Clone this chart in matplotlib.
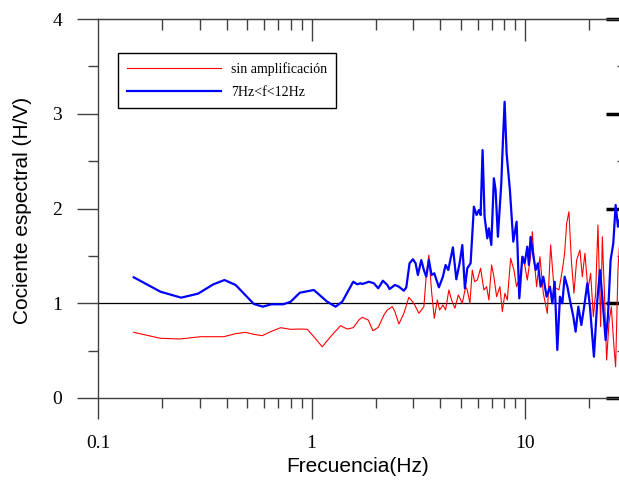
import numpy as np
import matplotlib.pyplot as plt
from matplotlib.ticker import LogLocator, MultipleLocator, FixedLocator, NullFormatter

# H/V spectral ratio - "sin amplificación" (red)
f_red = [0.147, 0.196, 0.243, 0.302, 0.388, 0.441, 0.491, 0.537, 0.588, 0.643,
         0.716, 0.797, 0.888, 0.955, 1.025, 1.122, 1.227, 1.367, 1.469, 1.567,
         1.665, 1.728, 1.843, 1.937, 2.053, 2.182, 2.263, 2.388, 2.456, 2.564,
         2.706, 2.855, 3.015, 3.182, 3.357, 3.445, 3.543, 3.648, 3.756, 3.880,
         3.977, 4.121, 4.243, 4.396, 4.526, 4.691, 4.866, 5.081, 5.264, 5.362,
         5.515, 5.657, 5.800, 5.971, 6.188, 6.412, 6.603, 6.767, 6.967, 7.142,
         7.355, 7.621, 7.821, 8.043, 8.255, 8.553, 8.862, 9.123, 9.454, 9.808,
         10.24, 10.61, 10.81, 11.00, 11.32, 11.73, 12.17, 12.71, 13.17, 13.64,
         14.40, 14.94, 15.31, 15.65, 16.04, 16.46, 16.93, 17.43, 18.06, 18.53,
         19.06, 19.69, 20.27, 20.87, 21.39, 21.93, 22.58, 22.99, 23.58, 24.08,
         24.69, 25.33, 26.06, 26.54, 27.21, 27.71]
hv_red = [0.693, 0.630, 0.623, 0.647, 0.647, 0.679, 0.693, 0.672, 0.658, 0.700,
          0.742, 0.725, 0.728, 0.725, 0.647, 0.541, 0.647, 0.763, 0.728, 0.742,
          0.823, 0.852, 0.823, 0.710, 0.746, 0.876, 0.929, 0.964, 0.911, 0.781,
          0.894, 1.063, 0.999, 0.894, 0.964, 1.298, 1.509, 1.122, 0.841, 1.034,
          0.929, 0.982, 0.929, 1.140, 1.034, 0.947, 1.087, 0.999, 1.175, 1.140,
          0.999, 1.351, 1.227, 1.245, 1.369, 1.140, 1.175, 1.034, 1.404, 1.280,
          1.069, 1.175, 0.911, 1.105, 1.034, 1.474, 1.351, 1.175, 1.280, 1.491,
          1.245, 1.500, 1.755, 1.491, 1.175, 1.491, 1.105, 0.894, 1.615, 1.175,
          1.140, 1.351, 1.527, 1.844, 1.966, 1.456, 1.105, 1.456, 1.562, 1.280,
          1.527, 1.140, 1.316, 0.858, 1.105, 1.826, 0.753, 1.702, 1.034, 0.401,
          0.788, 0.964, 0.541, 0.330, 1.351, 1.633]

# H/V spectral ratio - "7Hz<f<12Hz" (blue)
f_blue = [0.147, 0.196, 0.245, 0.294, 0.347, 0.391, 0.441, 0.537, 0.591, 0.648,
          0.737, 0.798, 0.881, 1.025, 1.184, 1.295, 1.392, 1.567, 1.637, 1.696,
          1.728, 1.855, 1.958, 2.053, 2.158, 2.263, 2.319, 2.456, 2.564, 2.706,
          2.777, 2.877, 2.982, 3.070, 3.147, 3.265, 3.357, 3.445, 3.543, 3.648,
          3.756, 3.948, 4.121, 4.243, 4.368, 4.591, 4.763, 4.935, 5.081, 5.224,
          5.362, 5.556, 5.757, 5.927, 6.076, 6.188, 6.322, 6.460, 6.652, 6.767,
          6.945, 7.142, 7.274, 7.457, 7.735, 7.870, 8.017, 8.191, 8.488, 8.804,
          9.123, 9.393, 9.703, 9.947, 10.24, 10.42, 10.61, 10.93, 11.20, 11.48,
          11.82, 12.17, 12.61, 13.07, 13.41, 13.75, 14.15, 14.56, 14.94, 15.31,
          15.77, 16.21, 16.82, 17.24, 17.75, 18.34, 19.00, 19.56, 20.12, 21.00,
          21.79, 22.41, 22.99, 23.82, 24.42, 25.14, 25.88, 26.54, 27.21, 27.71]
hv_blue = [1.274, 1.122, 1.059, 1.101, 1.200, 1.245, 1.193, 0.992, 0.964, 0.989,
           0.989, 1.016, 1.111, 1.140, 1.016, 0.964, 1.016, 1.227, 1.200, 1.211,
           1.203, 1.227, 1.211, 1.158, 1.238, 1.193, 1.150, 1.193, 1.175, 1.132,
           1.168, 1.422, 1.464, 1.422, 1.298, 1.456, 1.351, 1.280, 1.456, 1.298,
           1.316, 1.168, 1.280, 1.404, 1.351, 1.590, 1.253, 1.422, 1.615, 1.158,
           1.369, 1.422, 2.019, 1.931, 1.984, 1.931, 2.617, 1.913, 1.685, 1.791,
           1.615, 2.319, 2.195, 1.702, 2.266, 2.705, 3.127, 2.583, 2.195, 1.650,
           1.861, 1.052, 1.491, 1.422, 1.597, 1.404, 1.700, 1.500, 1.351, 1.422,
           1.175, 1.280, 1.069, 1.175, 0.999, 1.227, 0.507, 1.069, 0.999, 1.280,
           1.175, 1.034, 0.858, 0.700, 0.964, 0.770, 0.999, 1.211, 0.964, 0.436,
           1.034, 1.351, 1.069, 0.612, 0.858, 1.456, 1.633, 2.037, 1.808, 1.879]

labels = ['sin amplificación', '7Hz<f<12Hz']

fig = plt.figure(figsize=(6.19, 4.8), dpi=100)
ax = fig.add_axes([98/619, 82/480, 529/619, 379/480])

ax.plot(f_red, hv_red, color='#ff0000', lw=0.8, label=labels[0])
ax.plot(f_blue, hv_blue, color='#0000ff', lw=1.6, label=labels[1])
ax.axhline(1, color='black', lw=0.9, zorder=1)

ax.set_xscale('log')
ax.set_xlim(0.1, 30)
ax.set_ylim(0, 4)

gray = '#404040'
for s in ax.spines.values():
    s.set_color(gray)
    s.set_linewidth(1.0)

ax.xaxis.set_major_locator(FixedLocator([0.1, 1, 10]))
ax.xaxis.set_minor_locator(LogLocator(base=10, subs=np.arange(2, 10)))
ax.xaxis.set_minor_formatter(NullFormatter())
ax.set_xticklabels(['0.1', '1', '10'])
ax.yaxis.set_major_locator(MultipleLocator(1))
ax.yaxis.set_minor_locator(MultipleLocator(0.5))

ax.tick_params(which='major', direction='out', length=15, width=1, color=gray,
               labelsize=14)
ax.tick_params(axis='x', which='major', pad=12)
ax.tick_params(axis='y', which='major', pad=11)
ax.tick_params(which='minor', direction='out', length=7.5, width=1, color=gray)
for lab in ax.get_xticklabels() + ax.get_yticklabels():
    lab.set_fontfamily('Liberation Serif')

# inward ticks on top and right
top = ax.secondary_xaxis('top')
top.xaxis.set_major_locator(FixedLocator([1, 10]))
top.xaxis.set_minor_locator(LogLocator(base=10, subs=np.arange(2, 10)))
top.tick_params(which='major', direction='in', length=16, width=1, color=gray, labeltop=False)
top.tick_params(which='minor', direction='in', length=8, width=1, color=gray)
top.spines['top'].set_color(gray)

right = ax.secondary_yaxis('right')
right.yaxis.set_major_locator(MultipleLocator(1))
right.yaxis.set_minor_locator(MultipleLocator(0.5))
right.tick_params(which='major', direction='in', length=15, width=2.5, color='black', labelright=False)
right.tick_params(which='minor', direction='in', length=7, width=1, color=gray)

leg = ax.legend(loc='upper left', bbox_to_anchor=((118-98)/529, (398-53)/379),
                borderaxespad=0, fancybox=False, edgecolor='black', framealpha=1,
                handlelength=6.8, handletextpad=0.7, labelspacing=0.75,
                borderpad=0.65, prop={'family': 'Liberation Serif', 'size': 10})
leg.get_frame().set_linewidth(1.0)

fig.text(357.5/619, (480-467)/480, 'Frecuencia(Hz)', ha='center', va='center',
         fontsize=15, family='Liberation Sans')
fig.text(22.5/619, (480-210)/480, 'Cociente espectral (H/V)', ha='center', va='center',
         rotation=90, fontsize=15, family='Liberation Sans')

fig.savefig('out.png', dpi=100)
